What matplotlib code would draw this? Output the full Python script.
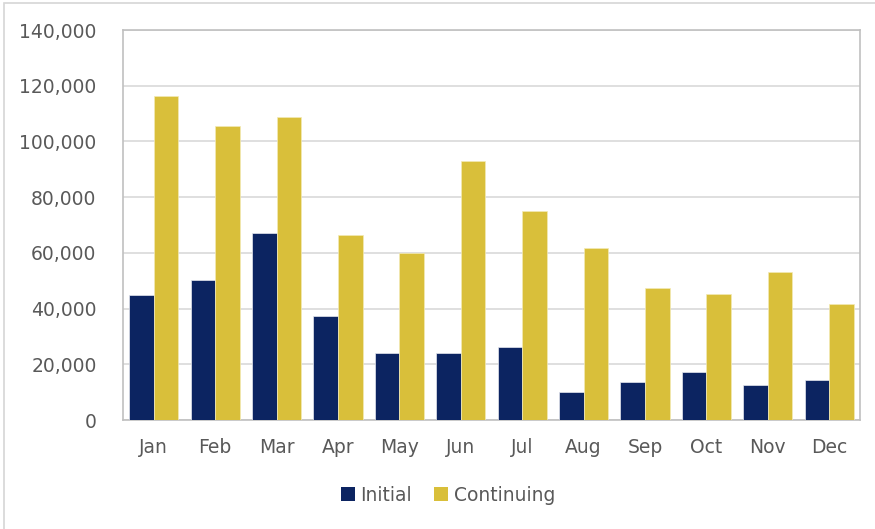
import matplotlib.pyplot as plt
import numpy as np
from matplotlib.patches import Rectangle

months = ['Jan', 'Feb', 'Mar', 'Apr', 'May', 'Jun', 'Jul', 'Aug', 'Sep', 'Oct', 'Nov', 'Dec']
initial = [44800, 50300, 67200, 37500, 24000, 24200, 26100, 9900, 13600, 17200, 12500, 14300]
continuing = [116400, 105600, 108700, 66500, 60000, 93000, 75200, 61600, 47500, 45100, 53000, 41600]

navy = '#0c2461'
gold = '#d9bf3a'
txt = '#595959'

plt.rcParams['font.family'] = ['DejaVu Sans']

fig = plt.figure(figsize=(8.75, 5.29), dpi=100)
fig.patches.append(Rectangle((3.5 / 875, -0.1), 2, 1.1 - 3.5 / 529, transform=fig.transFigure,
                             fill=False, edgecolor='#d6d6d6', linewidth=1.2))

ax = fig.add_axes([123 / 875, 1 - 420 / 529, 737 / 875, 390 / 529])
x = np.arange(len(months))
w = 0.4
ax.bar(x - w / 2, initial, w, color=navy, edgecolor='#e6e8ef', linewidth=0.5, label='Initial', zorder=3)
ax.bar(x + w / 2, continuing, w, color=gold, edgecolor='#f3eab5', linewidth=0.5, label='Continuing', zorder=3)

ax.set_xlim(-0.5, 11.5)
ax.set_ylim(0, 140000)
ax.set_yticks(range(0, 140001, 20000))
ax.yaxis.set_major_formatter(plt.FuncFormatter(lambda v, p: f'{int(v):,}'))
ax.set_xticks(x)
ax.set_xticklabels(months)
ax.tick_params(axis='both', length=0, labelcolor=txt, labelsize=13.5)
ax.tick_params(axis='y', pad=19)
ax.tick_params(axis='x', pad=13)
ax.grid(axis='y', color='#d9d9d9', linewidth=1.2, zorder=0)
for s in ax.spines.values():
    s.set_color('#c0c0c0')
    s.set_linewidth(1.2)

leg = fig.legend(loc='center', bbox_to_anchor=(0.512, 0.064), ncol=2, frameon=False,
                 fontsize=13.5, handlelength=0.75, handleheight=0.75, handletextpad=0.3,
                 columnspacing=1.2, labelcolor=txt)
for h in leg.legend_handles:
    h.set_edgecolor('none')

fig.savefig('out.png', dpi=100)
